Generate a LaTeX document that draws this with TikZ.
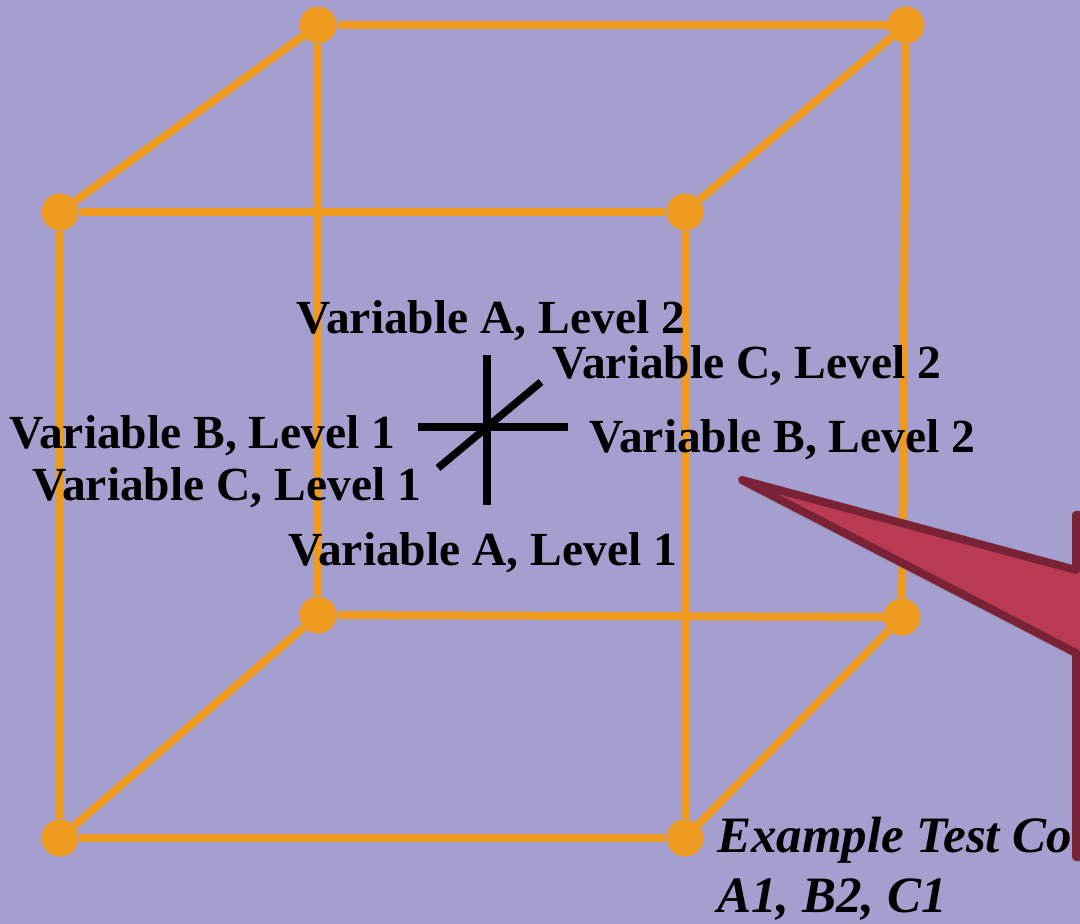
\documentclass[tikz,border=0pt]{standalone}
\usepackage{fontspec}
\setmainfont{Liberation Serif}
\usetikzlibrary{shadows}
\definecolor{bgc}{RGB}{164,159,206}
\definecolor{orng}{RGB}{238,154,30}
\definecolor{calfill}{RGB}{184,58,83}
\definecolor{caldraw}{RGB}{122,35,55}
\begin{document}
\begin{tikzpicture}[x=1pt,y=-1pt,
  vtx/.style={circle,fill=orng,inner sep=0pt,minimum size=37pt},
  edge/.style={draw=orng,line width=8pt},
  axis/.style={draw=black,line width=7.5pt},
  lab/.style={font=\fontsize{47.5}{56}\selectfont\bfseries,inner sep=0pt,anchor=base west},
  ilab/.style={font=\fontsize{51}{60}\selectfont\bfseries\itshape,inner sep=0pt,anchor=base west},
  callout/.style={fill=calfill,draw=caldraw,line width=8pt,line join=round,
    drop shadow={opacity=0.25,shadow xshift=-2pt,shadow yshift=-5pt}}]
\useasboundingbox (0,0) rectangle (1080,924);
\fill[bgc] (0,0) rectangle (1080,924);
\clip (0,0) rectangle (1080,924);
% cube vertices
\node[vtx] (f1) at (60,212) {};
\node[vtx] (f2) at (685,212) {};
\node[vtx] (f3) at (60,838) {};
\node[vtx] (f4) at (685,838) {};
\node[vtx] (b1) at (318,25) {};
\node[vtx] (b2) at (906,25) {};
\node[vtx] (b3) at (318,615) {};
\node[vtx] (b4) at (902,617) {};
% cube edges
\draw[edge] (f1) -- (f2);
\draw[edge] (f1) -- (f3);
\draw[edge] (f2) -- (f4);
\draw[edge] (f3) -- (f4);
\draw[edge] (b1) -- (b2);
\draw[edge] (b1) -- (b3);
\draw[edge] (b2) -- (b4);
\draw[edge] (b3) -- (b4);
\draw[edge] (f1) -- (b1);
\draw[edge] (f2) -- (b2);
\draw[edge] (f3) -- (b3);
\draw[edge] (f4) -- (b4);
% axes
\coordinate (aup) at (487,355);
\coordinate (adn) at (487,505);
\coordinate (blf) at (418,427);
\coordinate (brt) at (568,427);
\coordinate (clo) at (438,468);
\coordinate (chi) at (541,382);
\draw[axis] (aup) -- (adn);
\draw[axis] (blf) -- (brt);
\draw[axis] (clo) -- (chi);
% labels
\node[lab] (la2) at (296,333) {Variable A, Level 2};
\node[lab] (lc2) at (552,378) {Variable C, Level 2};
\node[lab] (lb1) at (9,448) {Variable B, Level 1};
\node[lab] (lb2) at (589,452) {Variable B, Level 2};
\node[lab] (lc1) at (32,500) {Variable C, Level 1};
\node[lab] (la1) at (288,565) {Variable A, Level 1};
\node[ilab] (ex1) at (717,852) {Example Test Co};
\node[ilab] (ex2) at (717,912) {A1, B2, C1};
% callout
\coordinate (tip) at (742,480);
\draw[callout] (tip) -- (1076,570) -- (1076,515) -- (1200,515) -- (1200,857)
  -- (1076,857) -- (1076,653) -- cycle;
\end{tikzpicture}
\end{document}
